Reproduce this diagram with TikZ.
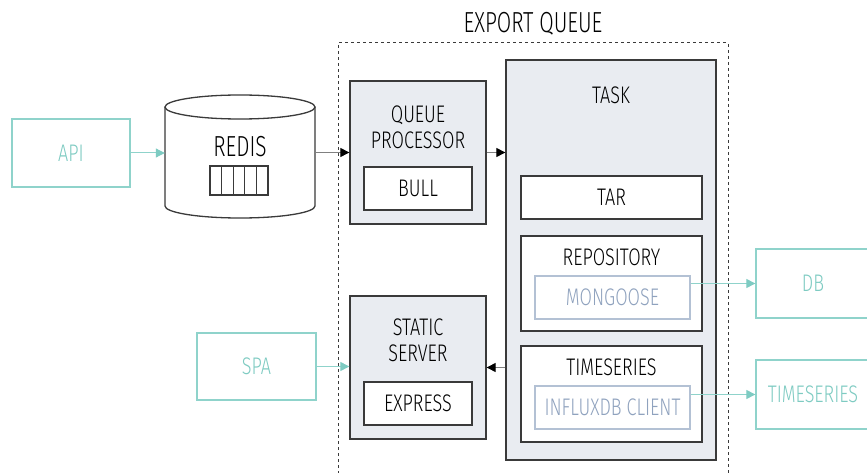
\documentclass[tikz,border=0pt]{standalone}
\usepackage{fontspec}
\setmainfont{Fira Sans}[UprightFont=* Light, FakeStretch=0.75]
\newfontfamily\bigfont{Fira Sans}[UprightFont=* Light, FakeStretch=0.72]
\usetikzlibrary{arrows.meta}
\definecolor{tealc}{HTML}{8FD3CB}
\definecolor{tealt}{HTML}{7ECBC2}
\definecolor{panel}{HTML}{E9ECF1}
\definecolor{dark}{HTML}{3A3A3A}
\definecolor{libb}{HTML}{B3C1D4}
\definecolor{libt}{HTML}{8FA2BE}
\tikzset{
  txt/.style={font=\fontsize{24}{25.5}\selectfont, text=black, align=center, inner sep=0pt},
  bigtxt/.style={font=\bigfont\fontsize{29}{31}\selectfont, text=black, inner sep=0pt},
  panelbox/.style={draw=dark, fill=panel, line width=1.3pt, inner sep=0pt},
  whitebox/.style={draw=dark, fill=white, line width=1.3pt, inner sep=0pt, font=\fontsize{24}{25.5}\selectfont, text=black},
  libbox/.style={draw=libb, fill=white, line width=1.2pt, inner sep=0pt, font=\fontsize{24}{25.5}\selectfont, text=libt},
  extbox/.style={draw=tealc, fill=white, line width=1.3pt, inner sep=0pt, font=\fontsize{24}{25.5}\selectfont, text=tealt},
  darrow/.style={draw=black!50, line width=1pt, -{Triangle[length=9pt,width=9pt,fill=black,color=black]}},
  tarrow/.style={draw=tealc, line width=1pt, -{Triangle[length=9pt,width=9pt,fill=tealt,color=tealt]}},
}
\begin{document}
\begin{tikzpicture}[x=1pt,y=-1pt]
\useasboundingbox (0,0) rectangle (867,473);
\clip (0,0) rectangle (867,473);
% export queue frame
\node[bigtxt] (eqtitle) at (533,24) {EXPORT QUEUE};
\draw[dark, line width=1pt, dash pattern=on 3pt off 3pt] (338,480) -- (338,43) -- (728,43) -- (728,480);
% API
\node[extbox, minimum width=118, minimum height=68] (api) at (71,153) {API};
% Redis cylinder
\draw[dark, line width=1.3pt, fill=white] (165,107) -- (165,206) arc[start angle=180, end angle=0, x radius=75, y radius=12] -- (315,107);
\draw[dark, line width=1.3pt, fill=white] (240,107) ellipse[x radius=75, y radius=12];
\node[inner sep=0pt, minimum width=150, minimum height=123] (redis) at (240,156.5) {};
\node[bigtxt] (redistxt) at (240,147) {REDIS};
\draw[dark, line width=1.2pt] (210,166) rectangle (268,195);
\foreach \xx in {221.6,233.2,244.8,256.4} \draw[dark, line width=1.2pt] (\xx,166) -- (\xx,195);
% Queue processor
\node[panelbox, minimum width=136, minimum height=143] (qp) at (418,152.5) {};
\node[txt] (qptxt) at (418,127.5) {QUEUE\\PROCESSOR};
\node[whitebox, minimum width=108, minimum height=43] (bull) at (418,188.5) {BULL};
% Task
\node[panelbox, minimum width=210, minimum height=400] (task) at (611,260) {};
\node[txt] (tasktxt) at (611,95) {TASK};
\node[whitebox, minimum width=181, minimum height=43] (tar) at (611.5,197.5) {TAR};
\node[whitebox, minimum width=181, minimum height=95] (repo) at (611.5,283.5) {};
\node[txt] (repotxt) at (611.5,257) {REPOSITORY};
\node[libbox, minimum width=155, minimum height=43] (mongoose) at (612.5,297.5) {MONGOOSE};
\node[whitebox, minimum width=181, minimum height=96] (ts) at (611.5,394) {};
\node[txt] (tstxt) at (611.5,367) {TIMESERIES};
\node[libbox, minimum width=155, minimum height=43] (influx) at (612.5,407.5) {INFLUXDB CLIENT};
% Static server
\node[panelbox, minimum width=136, minimum height=143] (ss) at (418,367.5) {};
\node[txt] (sstxt) at (418,340.5) {STATIC\\SERVER};
\node[whitebox, minimum width=108, minimum height=43] (express) at (418,403.5) {EXPRESS};
% External
\node[extbox, minimum width=119, minimum height=67] (spa) at (256.5,366.5) {SPA};
\node[extbox, minimum width=130, minimum height=69] (db) at (821,283.5) {};
\node[txt, text=tealt] (dbtxt) at (813,283.5) {DB};
\node[extbox, minimum width=130, minimum height=69] (tsx) at (821,394.5) {};
\node[txt, text=tealt] (tsxtxt) at (813,394.5) {TIMESERIES};
% connectors
\draw[tarrow] (api.east) -- (api.east -| redis.west);
\draw[darrow] (redis.east |- qp.west) -- (qp.west);
\draw[darrow] (qp.east) -- (qp.east -| task.west);
\draw[darrow] (task.west |- ss.east) -- (ss.east);
\draw[tarrow] (spa.east) -- (spa.east -| ss.west);
\draw[tarrow] (db.west -| mongoose.east) -- (db.west);
\draw[tarrow] (tsx.west -| influx.east) -- (tsx.west);
\end{tikzpicture}
\end{document}
